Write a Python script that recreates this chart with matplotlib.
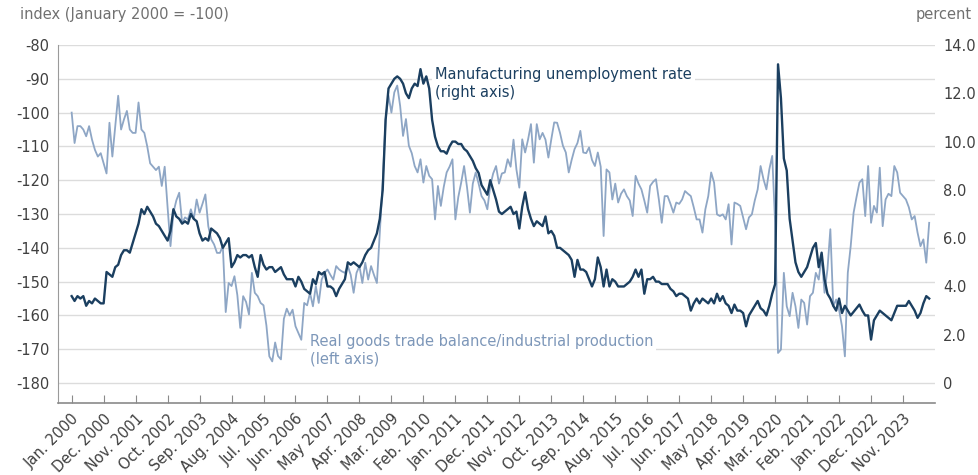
import matplotlib
matplotlib.use("Agg")
import matplotlib.pyplot as plt
import numpy as np

# monthly data, Jan 2000 - Aug 2024
# manufacturing unemployment rate, percent (right axis)
unemp = (
    [3.6, 3.4, 3.6, 3.5, 3.6, 3.2, 3.4, 3.3, 3.5, 3.4, 3.3, 3.3]            # 2000
    + [4.6, 4.5, 4.4, 4.8, 4.9, 5.3, 5.5, 5.5, 5.4, 5.8, 6.2, 6.6]         # 2001
    + [7.2, 7.0, 7.3, 7.1, 6.9, 6.6, 6.5, 6.3, 6.1, 5.9, 6.3, 7.2]         # 2002
    + [6.9, 6.8, 6.6, 6.7, 6.6, 7.0, 6.8, 6.7, 6.2, 5.9, 6.0, 5.9]         # 2003
    + [6.4, 6.3, 6.2, 6.0, 5.6, 5.8, 6.0, 4.8, 5.0, 5.3, 5.2, 5.3]         # 2004
    + [5.3, 5.2, 5.3, 4.8, 4.4, 5.3, 4.9, 4.7, 4.8, 4.8, 4.6, 4.7]         # 2005
    + [4.8, 4.5, 4.3, 4.3, 4.3, 4.0, 4.4, 4.2, 3.9, 3.8, 3.7, 4.3]         # 2006
    + [4.1, 4.6, 4.5, 4.6, 4.0, 4.0, 3.9, 3.6, 3.9, 4.1, 4.3, 5.0]         # 2007
    + [4.9, 5.0, 4.9, 4.8, 5.0, 5.3, 5.5, 5.6, 5.9, 6.2, 6.8, 8.0]         # 2008
    + [10.9, 12.2, 12.4, 12.6, 12.7, 12.6, 12.4, 12.0, 11.8, 12.2, 12.4, 12.3]  # 2009
    + [13.0, 12.4, 12.7, 12.2, 10.9, 10.2, 9.8, 9.6, 9.6, 9.5, 9.8, 10.0]  # 2010
    + [10.0, 9.9, 9.9, 9.7, 9.6, 9.4, 9.2, 8.9, 8.7, 8.2, 8.0, 7.8]        # 2011
    + [8.4, 8.0, 7.6, 7.1, 7.0, 7.1, 7.2, 7.3, 7.0, 7.1, 6.4, 7.3]         # 2012
    + [7.9, 7.2, 6.8, 6.5, 6.7, 6.6, 6.5, 6.9, 6.2, 6.3, 6.1, 5.6]         # 2013
    + [5.6, 5.5, 5.4, 5.3, 5.1, 4.4, 5.1, 4.7, 4.7, 4.6, 4.3, 4.0]         # 2014
    + [4.3, 5.2, 4.8, 4.0, 4.7, 4.0, 4.3, 4.2, 4.0, 4.0, 4.0, 4.1]         # 2015
    + [4.2, 4.4, 4.7, 4.4, 4.7, 3.7, 4.3, 4.3, 4.4, 4.2, 4.2, 4.1]         # 2016
    + [4.1, 4.1, 3.9, 3.8, 3.6, 3.7, 3.7, 3.6, 3.5, 3.0, 3.3, 3.5]         # 2017
    + [3.3, 3.5, 3.4, 3.3, 3.5, 3.3, 3.7, 3.4, 3.6, 3.3, 3.2, 2.9]         # 2018
    + [3.25, 3.0, 3.0, 2.9, 2.35, 2.8, 3.0, 3.2, 3.4, 3.1, 3.0, 2.8]       # 2019
    + [3.2, 3.7, 4.1, 13.2, 11.8, 9.3, 8.8, 6.8, 5.9, 5.0, 4.6, 4.4]       # 2020
    + [4.6, 4.8, 5.2, 5.6, 5.8, 4.8, 5.4, 4.3, 3.7, 3.5, 3.2, 3.0]         # 2021
    + [3.5, 2.9, 3.2, 3.0, 2.8, 2.95, 3.1, 3.25, 3.0, 2.8, 2.8, 1.8]       # 2022
    + [2.6, 2.8, 3.0, 2.9, 2.8, 2.7, 2.6, 2.9, 3.2, 3.2, 3.2, 3.2]         # 2023
    + [3.4, 3.2, 3.0, 2.7, 2.9, 3.3, 3.6, 3.5]                              # 2024
)

# real goods trade balance / industrial production, index Jan 2000 = -100 (left axis)
trade = (
    [-100, -109, -104, -104, -105, -107, -104, -108, -111, -113, -112, -115]
    + [-118, -103, -113, -104, -95, -105, -102, -99.5, -105, -106, -106, -97]
    + [-105, -106, -110, -115, -116, -117, -116, -121.7, -116, -128, -139.5, -129.6]
    + [-126, -123.7, -132.6, -131, -131.6, -128.6, -131.5, -125.7, -129.6, -127, -124.2, -133.6]
    + [-137.5, -139, -141.5, -141.5, -139.5, -159, -150.4, -151.3, -148.4, -154, -163.7, -154.3]
    + [-156, -159.7, -147.4, -153.3, -154.3, -156.3, -157, -163, -172.1, -173.6, -168, -172]
    + [-173, -161, -158, -160, -158.3, -163.2, -165.2, -167.2, -156.3, -157, -153.3, -157.3]
    + [-151.3, -156.3, -149.4, -147.4, -146.4, -148, -149.4, -145.4, -146.4, -147, -147.4, -145.4]
    + [-148, -153.3, -147.4, -145.4, -150.4, -144.4, -149.4, -145.4, -148, -150.4, -135.5, -120.7]
    + [-102, -95, -100, -94, -92, -98, -106.9, -101.9, -109.8, -112, -115.8, -117.7]
    + [-113.8, -120.7, -115.8, -118.7, -119.7, -131.6, -121.7, -127.6, -122, -117.7, -116, -113.8]
    + [-131.6, -125, -120.7, -115.8, -122, -129.6, -121, -117.7, -121, -124.7, -126, -128.6]
    + [-121.7, -118, -115.8, -121, -118, -117.7, -113.8, -116, -108, -116.8, -122.2, -107.9]
    + [-111.8, -108, -103.4, -114.8, -103.4, -107.9, -106, -108, -113.3, -107.9, -102.9, -103]
    + [-106, -109.8, -111.8, -117.7, -114, -110.8, -109, -105.4, -111.8, -112, -110.3, -114]
    + [-115.8, -111.8, -116, -136.5, -116.8, -117.7, -125.7, -121, -126.6, -124, -122.7, -124.7]
    + [-126, -130.6, -118.7, -121, -122.7, -126, -129.6, -121.7, -120.5, -119.7, -125.7, -132.6]
    + [-124.7, -124.7, -127, -129.6, -126.6, -127, -125.7, -123.2, -124, -124.7, -128, -131.6]
    + [-131.6, -135.5, -128.6, -124.7, -117.7, -120.7, -130.1, -130.6, -130.1, -131.6, -127.1, -139]
    + [-126.6, -127, -127.6, -131, -134.5, -131, -130.1, -126, -122.7, -115.8, -119.7, -122.7]
    + [-116.8, -112.8, -132.6, -171.1, -170.1, -147.4, -157.3, -160.2, -153.3, -157.3, -163.7, -155.3]
    + [-156.3, -162.7, -154.3, -153.3, -147.4, -149.4, -142.5, -153.3, -146.4, -134.5, -157.3, -155.3]
    + [-158.3, -163.2, -172.1, -147.4, -139.5, -129.6, -125, -120.7, -119.7, -130.6, -115.8, -132.6]
    + [-127.6, -129.6, -116.3, -133.6, -125.7, -124, -124.7, -115.8, -117.7, -123.7, -124.7, -125.7]
    + [-128, -131.6, -130.6, -135.5, -139.5, -137.5, -144.4, -132.6]
)

tick_labels = ["Jan. 2000", "Dec. 2000", "Nov. 2001", "Oct. 2002", "Sep. 2003",
               "Aug. 2004", "Jul. 2005", "Jun. 2006", "May 2007", "Apr. 2008",
               "Mar. 2009", "Feb. 2010", "Jan. 2011", "Dec. 2011", "Nov. 2012",
               "Oct. 2013", "Sep. 2014", "Aug. 2015", "Jul. 2016", "Jun. 2017",
               "May 2018", "Apr. 2019", "Mar. 2020", "Feb. 2021", "Jan. 2022",
               "Dec. 2022", "Nov. 2023"]
left_ticks = [-180, -170, -160, -150, -140, -130, -120, -110, -100, -90, -80]
right_ticks = [0, 2, 4, 6, 8, 10, 12, 14]

dark = "#1b3f60"
light = "#8ea6c5"
grey = "#707070"

plt.rcParams['font.family'] = ['DejaVu Sans']

months = np.arange(len(trade))

fig = plt.figure(figsize=(9.79, 4.75), dpi=100)
ax = fig.add_axes([58/979, 1-403/475, (935-58)/979, (403-45)/475])
ax2 = ax.twinx()

ax.plot(months, trade, color=light, lw=1.3, zorder=2)
ax2.plot(months, unemp, color=dark, lw=1.7, zorder=2)

ax.set_xlim(-4.7, 297)
ax.set_ylim(-185.9, -80)
ax2.set_ylim((-185.9 + 180) * 0.14, 14)

ax.set_yticks(left_ticks)
ax.set_yticklabels([str(v) for v in left_ticks])
ax2.set_yticks(right_ticks)
ax2.set_yticklabels(["0"] + ["%.1f" % v for v in right_ticks[1:]])

ax.set_xticks(np.arange(len(tick_labels)) * 11)
ax.set_xticklabels(tick_labels, rotation=45, ha="right", rotation_mode="anchor")

ax.grid(axis="y", color="#dcdcdc", lw=1)
ax.set_axisbelow(True)

for s in ["top", "right"]:
    ax.spines[s].set_visible(False)
for s in ["top", "right", "left", "bottom"]:
    ax2.spines[s].set_visible(False)
ax.spines["left"].set_color("#9a9a9a")
ax.spines["bottom"].set_color("#8a8a8a")
ax.spines["bottom"].set_linewidth(1.2)

ax.tick_params(axis="x", direction="in", length=6, color="#8a8a8a",
               labelsize=10.5, labelcolor="#404040", pad=6)
ax.tick_params(axis="y", length=0, labelsize=10.5, labelcolor="#404040", pad=6)
ax2.tick_params(axis="y", length=0, labelsize=10.5, labelcolor="#404040", pad=6)

ax2.text(125, 12.4, "Manufacturing unemployment rate\n(right axis)", color=dark,
         fontsize=10.5, va="center", ha="left", zorder=5,
         bbox=dict(facecolor="white", edgecolor="none", pad=2))
ax.text(82, -170.2, "Real goods trade balance/industrial production\n(left axis)",
        color="#7d97b9", fontsize=10.5, va="center", ha="left", zorder=5,
        bbox=dict(facecolor="white", edgecolor="none", pad=2))

fig.text(20/979, 1-15/475, "index (January 2000 = -100)", color=grey,
         fontsize=10.5, va="center", ha="left")
fig.text(972/979, 1-15/475, "percent", color=grey, fontsize=10.5,
         va="center", ha="right")

fig.savefig("out.png", dpi=100)
